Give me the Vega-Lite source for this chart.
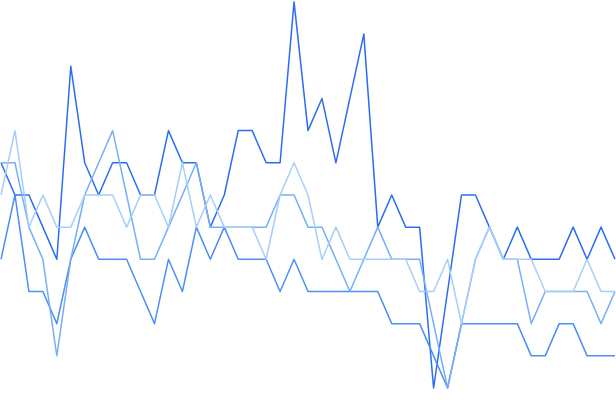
{
  "$schema": "https://vega.github.io/schema/vega-lite/v6.json",
  "width": 616,
  "height": 416,
  "padding": 0,
  "autosize": {"type": "fit", "contains": "padding"},
  "background": "white",
  "config": {"view": {"stroke": null}},
  "data": {"values": [
    {"s":"A","i":0,"v":7},{"s":"A","i":1,"v":6},{"s":"A","i":2,"v":6},{"s":"A","i":3,"v":5},{"s":"A","i":4,"v":4},{"s":"A","i":5,"v":10},{"s":"A","i":6,"v":7},{"s":"A","i":7,"v":6},{"s":"A","i":8,"v":7},{"s":"A","i":9,"v":7},{"s":"A","i":10,"v":6},{"s":"A","i":11,"v":6},{"s":"A","i":12,"v":8},{"s":"A","i":13,"v":7},{"s":"A","i":14,"v":7},{"s":"A","i":15,"v":5},{"s":"A","i":16,"v":6},{"s":"A","i":17,"v":8},{"s":"A","i":18,"v":8},{"s":"A","i":19,"v":7},{"s":"A","i":20,"v":7},{"s":"A","i":21,"v":12},{"s":"A","i":22,"v":8},{"s":"A","i":23,"v":9},{"s":"A","i":24,"v":7},{"s":"A","i":25,"v":9},{"s":"A","i":26,"v":11},{"s":"A","i":27,"v":5},{"s":"A","i":28,"v":6},{"s":"A","i":29,"v":5},{"s":"A","i":30,"v":5},{"s":"A","i":31,"v":0},{"s":"A","i":32,"v":3},{"s":"A","i":33,"v":6},{"s":"A","i":34,"v":6},{"s":"A","i":35,"v":5},{"s":"A","i":36,"v":4},{"s":"A","i":37,"v":5},{"s":"A","i":38,"v":4},{"s":"A","i":39,"v":4},{"s":"A","i":40,"v":4},{"s":"A","i":41,"v":5},{"s":"A","i":42,"v":4},{"s":"A","i":43,"v":5},{"s":"A","i":44,"v":4},
    {"s":"B","i":0,"v":4},{"s":"B","i":1,"v":6},{"s":"B","i":2,"v":3},{"s":"B","i":3,"v":3},{"s":"B","i":4,"v":2},{"s":"B","i":5,"v":4},{"s":"B","i":6,"v":5},{"s":"B","i":7,"v":4},{"s":"B","i":8,"v":4},{"s":"B","i":9,"v":4},{"s":"B","i":10,"v":3},{"s":"B","i":11,"v":2},{"s":"B","i":12,"v":4},{"s":"B","i":13,"v":3},{"s":"B","i":14,"v":5},{"s":"B","i":15,"v":4},{"s":"B","i":16,"v":5},{"s":"B","i":17,"v":4},{"s":"B","i":18,"v":4},{"s":"B","i":19,"v":4},{"s":"B","i":20,"v":3},{"s":"B","i":21,"v":4},{"s":"B","i":22,"v":3},{"s":"B","i":23,"v":3},{"s":"B","i":24,"v":3},{"s":"B","i":25,"v":3},{"s":"B","i":26,"v":3},{"s":"B","i":27,"v":3},{"s":"B","i":28,"v":2},{"s":"B","i":29,"v":2},{"s":"B","i":30,"v":2},{"s":"B","i":31,"v":1},{"s":"B","i":32,"v":0},{"s":"B","i":33,"v":2},{"s":"B","i":34,"v":2},{"s":"B","i":35,"v":2},{"s":"B","i":36,"v":2},{"s":"B","i":37,"v":2},{"s":"B","i":38,"v":1},{"s":"B","i":39,"v":1},{"s":"B","i":40,"v":2},{"s":"B","i":41,"v":2},{"s":"B","i":42,"v":1},{"s":"B","i":43,"v":1},{"s":"B","i":44,"v":1},
    {"s":"C","i":0,"v":7},{"s":"C","i":1,"v":7},{"s":"C","i":2,"v":5},{"s":"C","i":3,"v":4},{"s":"C","i":4,"v":1},{"s":"C","i":5,"v":4},{"s":"C","i":6,"v":6},{"s":"C","i":7,"v":7},{"s":"C","i":8,"v":8},{"s":"C","i":9,"v":6},{"s":"C","i":10,"v":4},{"s":"C","i":11,"v":4},{"s":"C","i":12,"v":5},{"s":"C","i":13,"v":6},{"s":"C","i":14,"v":7},{"s":"C","i":15,"v":5},{"s":"C","i":16,"v":5},{"s":"C","i":17,"v":5},{"s":"C","i":18,"v":5},{"s":"C","i":19,"v":5},{"s":"C","i":20,"v":6},{"s":"C","i":21,"v":6},{"s":"C","i":22,"v":5},{"s":"C","i":23,"v":5},{"s":"C","i":24,"v":4},{"s":"C","i":25,"v":3},{"s":"C","i":26,"v":4},{"s":"C","i":27,"v":5},{"s":"C","i":28,"v":4},{"s":"C","i":29,"v":4},{"s":"C","i":30,"v":4},{"s":"C","i":31,"v":2},{"s":"C","i":32,"v":0},{"s":"C","i":33,"v":2},{"s":"C","i":34,"v":4},{"s":"C","i":35,"v":5},{"s":"C","i":36,"v":4},{"s":"C","i":37,"v":4},{"s":"C","i":38,"v":2},{"s":"C","i":39,"v":3},{"s":"C","i":40,"v":3},{"s":"C","i":41,"v":3},{"s":"C","i":42,"v":3},{"s":"C","i":43,"v":2},{"s":"C","i":44,"v":3},
    {"s":"D","i":0,"v":6},{"s":"D","i":1,"v":8},{"s":"D","i":2,"v":5},{"s":"D","i":3,"v":6},{"s":"D","i":4,"v":5},{"s":"D","i":5,"v":5},{"s":"D","i":6,"v":6},{"s":"D","i":7,"v":6},{"s":"D","i":8,"v":6},{"s":"D","i":9,"v":5},{"s":"D","i":10,"v":6},{"s":"D","i":11,"v":6},{"s":"D","i":12,"v":5},{"s":"D","i":13,"v":7},{"s":"D","i":14,"v":5},{"s":"D","i":15,"v":6},{"s":"D","i":16,"v":5},{"s":"D","i":17,"v":5},{"s":"D","i":18,"v":5},{"s":"D","i":19,"v":4},{"s":"D","i":20,"v":6},{"s":"D","i":21,"v":7},{"s":"D","i":22,"v":6},{"s":"D","i":23,"v":4},{"s":"D","i":24,"v":5},{"s":"D","i":25,"v":4},{"s":"D","i":26,"v":4},{"s":"D","i":27,"v":4},{"s":"D","i":28,"v":4},{"s":"D","i":29,"v":4},{"s":"D","i":30,"v":3},{"s":"D","i":31,"v":3},{"s":"D","i":32,"v":4},{"s":"D","i":33,"v":2},{"s":"D","i":34,"v":4},{"s":"D","i":35,"v":5},{"s":"D","i":36,"v":4},{"s":"D","i":37,"v":4},{"s":"D","i":38,"v":4},{"s":"D","i":39,"v":3},{"s":"D","i":40,"v":3},{"s":"D","i":41,"v":3},{"s":"D","i":42,"v":4},{"s":"D","i":43,"v":3},{"s":"D","i":44,"v":3}
  ]},
  "mark": {"type": "line", "interpolate": "linear", "strokeWidth": 1.5, "strokeJoin": "round"},
  "encoding": {
    "x": {"field": "i", "type": "quantitative", "axis": null, "scale": {"domain": [0, 44], "nice": false, "zero": false}},
    "y": {"field": "v", "type": "quantitative", "axis": null, "scale": {"domain": [-0.87, 12.06], "nice": false, "zero": false}},
    "color": {"field": "s", "type": "nominal", "legend": null, "scale": {"domain": ["A","B","C","D"], "range": ["#2a6df4","#4c8ef7","#77aefa","#a7cdfb"]}},
    "order": {"field": "i"}
  }
}
